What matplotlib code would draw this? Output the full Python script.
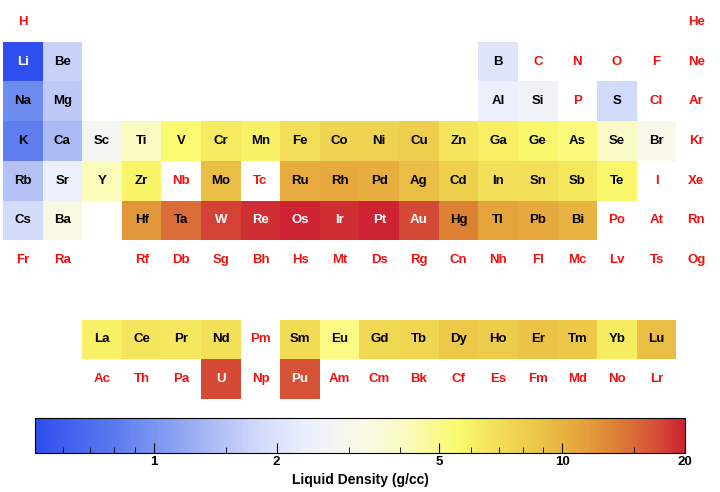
import numpy as np
import matplotlib
matplotlib.use('Agg')
import matplotlib.pyplot as plt
from matplotlib.colors import LinearSegmentedColormap, LogNorm
from matplotlib.ticker import FixedLocator, FixedFormatter, NullFormatter

nan = np.nan

# --- Data: one list of symbols and one of liquid densities (g/cc) per table row ---
row_symbols = [
    ["H"] + [""] * 16 + ["He"],
    ["Li", "Be"] + [""] * 10 + ["B", "C", "N", "O", "F", "Ne"],
    ["Na", "Mg"] + [""] * 10 + ["Al", "Si", "P", "S", "Cl", "Ar"],
    ["K", "Ca", "Sc", "Ti", "V", "Cr", "Mn", "Fe", "Co", "Ni", "Cu", "Zn",
     "Ga", "Ge", "As", "Se", "Br", "Kr"],
    ["Rb", "Sr", "Y", "Zr", "Nb", "Mo", "Tc", "Ru", "Rh", "Pd", "Ag", "Cd",
     "In", "Sn", "Sb", "Te", "I", "Xe"],
    ["Cs", "Ba", "", "Hf", "Ta", "W", "Re", "Os", "Ir", "Pt", "Au", "Hg",
     "Tl", "Pb", "Bi", "Po", "At", "Rn"],
    ["Fr", "Ra", "", "Rf", "Db", "Sg", "Bh", "Hs", "Mt", "Ds", "Rg", "Cn",
     "Nh", "Fl", "Mc", "Lv", "Ts", "Og"],
    [""] * 18,
    ["", "", "La", "Ce", "Pr", "Nd", "Pm", "Sm", "Eu", "Gd", "Tb", "Dy",
     "Ho", "Er", "Tm", "Yb", "Lu", ""],
    ["", "", "Ac", "Th", "Pa", "U", "Np", "Pu", "Am", "Cm", "Bk", "Cf",
     "Es", "Fm", "Md", "No", "Lr", ""],
]

row_density = [
    [nan] * 18,
    [0.512, 1.69] + [nan] * 10 + [2.08, nan, nan, nan, nan, nan],
    [0.927, 1.584] + [nan] * 10 + [2.375, 2.57, nan, 1.819, nan, nan],
    [0.828, 1.378, 2.80, 4.11, 5.5, 6.3, 5.95, 6.98, 7.75, 7.81, 8.02, 6.57,
     6.095, 5.60, 5.22, 3.99, 3.10, nan],
    [1.46, 2.375, 4.24, 5.8, nan, 9.33, nan, 10.65, 10.7, 10.38, 9.32, 8.0,
     7.02, 6.99, 6.53, 5.70, nan, nan],
    [1.843, 3.338, nan, 12.0, 15.0, 17.6, 18.9, 20.0, 19.0, 19.77, 17.31, 13.53,
     11.22, 10.66, 10.05, nan, nan, nan],
    [nan] * 18,
    [nan] * 18,
    [nan, nan, 5.94, 6.55, 6.50, 6.89, nan, 7.16, 5.13, 7.4, 7.65, 8.37,
     8.34, 8.86, 8.56, 6.21, 9.3, nan],
    [nan, nan, nan, nan, nan, 17.3, nan, 16.63, nan, nan, nan, nan,
     nan, nan, nan, nan, nan, nan],
]

cbar_ticks = [1, 2, 5, 10, 20]
cbar_minor = [0.6, 0.7, 0.8, 0.9, 1.5, 3, 4, 6, 7, 8, 9, 15]
cbar_label = "Liquid Density (g/cc)"

# blue - white - yellow - red map
stops = [
    (0.00, (46, 78, 238)), (0.13, (95, 125, 238)), (0.16, (110, 140, 240)),
    (0.28, (176, 190, 245)), (0.35, (213, 220, 250)), (0.42, (235, 240, 252)),
    (0.47, (245, 247, 240)), (0.52, (250, 250, 224)), (0.57, (250, 250, 192)),
    (0.65, (250, 250, 110)), (0.72, (242, 220, 85)), (0.78, (235, 195, 70)),
    (0.84, (230, 165, 60)), (0.90, (220, 125, 55)), (0.95, (215, 85, 55)),
    (1.00, (205, 35, 50)),
]
cmap = LinearSegmentedColormap.from_list(
    "tempmap", [(p, tuple(c / 255 for c in rgb)) for p, rgb in stops])
cmap.set_bad("white")

plt.rcParams['font.family'] = ['Liberation Sans', 'DejaVu Sans']
plt.rcParams['font.weight'] = 'bold'

density = np.array(row_density, dtype=float)
norm = LogNorm(vmin=0.512, vmax=20)

fig = plt.figure(figsize=(7.2, 4.92), dpi=100)
ax = fig.add_axes([3 / 720, 1 - 399 / 492, 713 / 720, 397 / 492])
mesh = ax.pcolormesh(np.arange(19), np.arange(11), np.ma.masked_invalid(density),
                     cmap=cmap, norm=norm, edgecolors='none')
ax.set_xlim(0, 18)
ax.set_ylim(10, 0)
ax.axis('off')

for r, syms in enumerate(row_symbols):
    for c, s in enumerate(syms):
        if not s:
            continue
        v = density[r, c]
        if np.isnan(v):
            col = '#f01010'
        elif v > 16 or v < 0.6:
            col = 'white'
        else:
            col = 'black'
        ax.text(c + 0.5, r + 0.5, s, ha='center', va='center',
                fontsize=9.5, fontweight='bold', color=col)

# colorbar
cax = fig.add_axes([35 / 720, 1 - 453 / 492, 650 / 720, 35 / 492])
cb = fig.colorbar(mesh, cax=cax, orientation='horizontal')
cb.outline.set_linewidth(0.8)
cax.xaxis.set_major_locator(FixedLocator(cbar_ticks))
cax.xaxis.set_major_formatter(FixedFormatter([str(t) for t in cbar_ticks]))
cax.xaxis.set_minor_locator(FixedLocator(cbar_minor))
cax.xaxis.set_minor_formatter(NullFormatter())
cax.tick_params(axis='x', which='major', direction='in', length=7, width=0.8,
                labelsize=9.5, pad=2.5)
cax.tick_params(axis='x', which='minor', direction='in', length=4, width=0.6)
for lbl in cax.get_xticklabels():
    lbl.set_fontweight('bold')
cb.set_label(cbar_label, fontsize=10, fontweight='bold', labelpad=3)

fig.savefig('out.png', dpi=100)
